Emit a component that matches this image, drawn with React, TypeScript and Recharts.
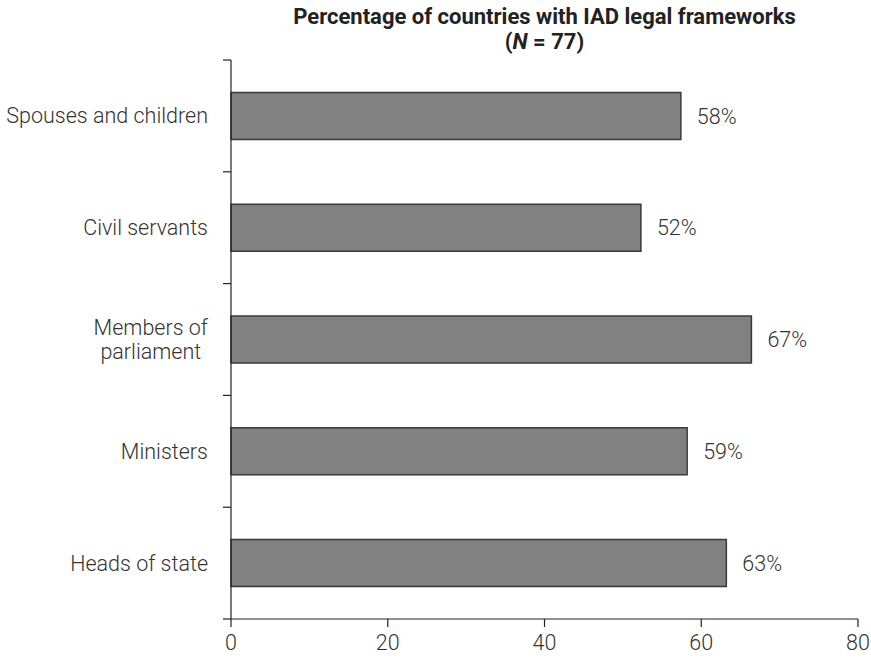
import { BarChart, Bar, XAxis, YAxis, LabelList } from "recharts";

const categories = [
  "Spouses and children",
  "Civil servants",
  "Members of\nparliament",
  "Ministers",
  "Heads of state",
];
const shares = [57.4, 52.3, 66.4, 58.2, 63.2];
const shareLabels = ["58%", "52%", "67%", "59%", "63%"];
const xTicks = [0, 20, 40, 60, 80];

const WIDTH = 871;
const HEIGHT = 658;
const MARGIN = { top: 60, right: 13, bottom: 0, left: 0 };
const Y_AXIS_WIDTH = 231;
const X_AXIS_HEIGHT = 39;
const AXIS_X = MARGIN.left + Y_AXIS_WIDTH;
const BAND = (HEIGHT - MARGIN.top - MARGIN.bottom - X_AXIS_HEIGHT) / categories.length;
const FONT = "Roboto, 'Liberation Sans', Arial, sans-serif";
const FONT_SIZE = 21.5;
const TEXT = "#333333";
const AXIS = "#222222";

const rows = categories.map((name, i) => ({ name, value: shares[i], label: shareLabels[i] }));

let ctx: CanvasRenderingContext2D | null = null;
function measure(text: string): number {
  if (!ctx) ctx = document.createElement("canvas").getContext("2d");
  if (!ctx) return text.length * 9;
  ctx.font = `300 ${FONT_SIZE}px ${FONT}`;
  return ctx.measureText(text).width;
}

// category label plus tick marks at the band edges (the reference marks the edges, not the centres)
function CategoryTick(props: any) {
  const { y, payload, index, visibleTicksCount } = props;
  const half = payload?.offset || BAND / 2;
  const lines = String(payload.value).split("\n");
  const right = AXIS_X - 23;
  const lineH = 24;
  const widest = Math.max(...lines.map(measure));
  const cx = right - widest / 2;
  const top = y - ((lines.length - 1) * lineH) / 2;
  return (
    <g>
      <line x1={AXIS_X - 8} x2={AXIS_X} y1={y - half} y2={y - half} stroke={AXIS} strokeWidth={1.2} />
      {index === visibleTicksCount - 1 && (
        <line x1={AXIS_X - 8} x2={AXIS_X} y1={y + half} y2={y + half} stroke={AXIS} strokeWidth={1.2} />
      )}
      {lines.map((line, i) => (
        <text
          key={i}
          x={lines.length > 1 ? cx : right}
          y={top + i * lineH}
          dy="0.35em"
          textAnchor={lines.length > 1 ? "middle" : "end"}
          fontSize={FONT_SIZE}
          fontFamily={FONT}
          fontWeight={300}
          fill={TEXT}
        >
          {line}
        </text>
      ))}
    </g>
  );
}

export default function App() {
  return (
    <div style={{ position: "absolute", left: 0, top: 0, width: WIDTH, height: HEIGHT, background: "#fff" }}>
      <div
        style={{
          position: "absolute",
          left: AXIS_X,
          width: WIDTH - AXIS_X - MARGIN.right,
          top: 4,
          textAlign: "center",
          fontFamily: FONT,
          fontWeight: "bold",
          fontSize: 22,
          lineHeight: "25px",
          color: "#222",
        }}
      >
        Percentage of countries with IAD legal frameworks
        <br />(<i>N</i> = 77)
      </div>
      <BarChart width={WIDTH} height={HEIGHT} data={rows} layout="vertical" margin={MARGIN} barCategoryGap="29%">
        <XAxis
          type="number"
          domain={[0, 80]}
          ticks={xTicks}
          height={X_AXIS_HEIGHT}
          tickSize={8}
          tickMargin={8}
          stroke={AXIS}
          strokeWidth={1.2}
          tick={{ fontSize: FONT_SIZE, fontFamily: FONT, fontWeight: 300, fill: TEXT }}
        />
        <YAxis
          type="category"
          dataKey="name"
          width={Y_AXIS_WIDTH}
          interval={0}
          tickLine={false}
          stroke={AXIS}
          strokeWidth={1.2}
          tick={<CategoryTick />}
        />
        <Bar dataKey="value" fill="#818181" stroke="#3a3a3a" strokeWidth={1.5} isAnimationActive={false}>
          <LabelList
            dataKey="label"
            position="right"
            offset={16}
            fontSize={FONT_SIZE}
            fontFamily={FONT}
            fontWeight={300}
            fill={TEXT}
          />
        </Bar>
      </BarChart>
    </div>
  );
}
